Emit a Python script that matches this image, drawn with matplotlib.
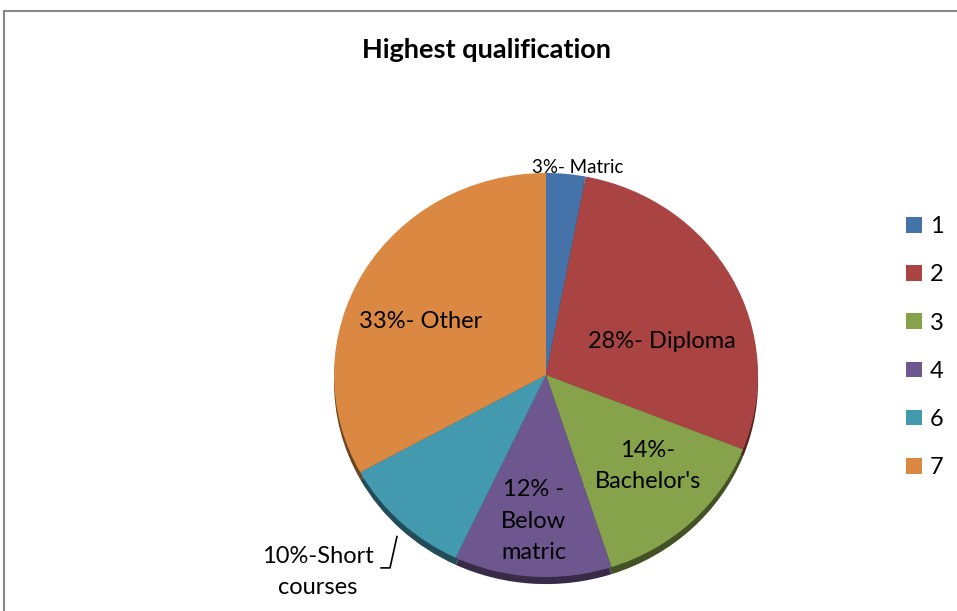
import matplotlib
matplotlib.use("Agg")
import matplotlib.pyplot as plt
from matplotlib.patches import Rectangle
from matplotlib.lines import Line2D
import matplotlib.colors as mcolors

plt.rcParams['font.family'] = ['Lato', 'DejaVu Sans']

title = "Highest qualification"
legend_labels = ["1", "2", "3", "4", "6", "7"]
values = [3, 28, 14, 12, 10, 33]
slice_labels = ["3%- Matric", "28%- Diploma", "14%-\nBachelor's",
                "12% -\nBelow\nmatric", "10%-Short\ncourses", "33%- Other"]
colors = ["#4672AA", "#A94442", "#86A24A", "#6E568E", "#439AAF", "#DA8842"]

W, H = 957, 611
fig = plt.figure(figsize=(W / 100, H / 100), dpi=100)

# chart frame
fig.patches.append(Rectangle((4 / W, -0.05), 1.2, (H - 11) / H + 0.05,
                             transform=fig.transFigure, fill=False,
                             edgecolor="#868686", linewidth=1.5))

cx, cy, rx, ry = 546, 375, 212, 202
ax = fig.add_axes([(cx - rx) / W, (H - cy - ry) / H, 2 * rx / W, 2 * ry / H])


def darken(c, f=0.5):
    r, g, b = mcolors.to_rgb(c)
    return (r * f, g * f, b * f)

# 3D rim
ax.pie(values, colors=[darken(c) for c in colors], startangle=90,
       counterclock=False, radius=1, center=(0, -0.035), frame=True,
       wedgeprops=dict(linewidth=0))
wedges, _ = ax.pie(values, colors=colors, startangle=90, counterclock=False,
                   radius=1, center=(0, 0), frame=True,
                   wedgeprops=dict(linewidth=0))
ax.set_xlim(-1, 1)
ax.set_ylim(-1, 1)
ax.set_aspect("auto")
ax.axis("off")

label_pos = [(0.151, 1.025), (0.547, 0.168), (0.481, -0.45),
             (-0.057, -0.723), (-1.075, -0.975), (-0.59, 0.267)]
sizes = [13.5, 17, 17, 17, 17, 17]
for lab, (x, y), s in zip(slice_labels, label_pos, sizes):
    ax.text(x, y, lab, ha="center", va="center", fontsize=s, color="black",
            linespacing=1.6, clip_on=False)

# leader line for short courses
ax.add_line(Line2D([-0.778, -0.736, -0.703], [-0.955, -0.955, -0.80],
                   color="black", linewidth=1.2, clip_on=False))

fig.text(487 / W, 1 - 50 / H, title, ha="center", va="center",
         fontsize=19.5, fontweight="bold")

leg = fig.legend(wedges, legend_labels, loc="upper left",
                 bbox_to_anchor=(885 / W, 1 - 195 / H), frameon=False,
                 fontsize=17, handlelength=0.65, handleheight=0.65,
                 handletextpad=0.35, labelspacing=1.15)

fig.savefig("out.png", dpi=100)
